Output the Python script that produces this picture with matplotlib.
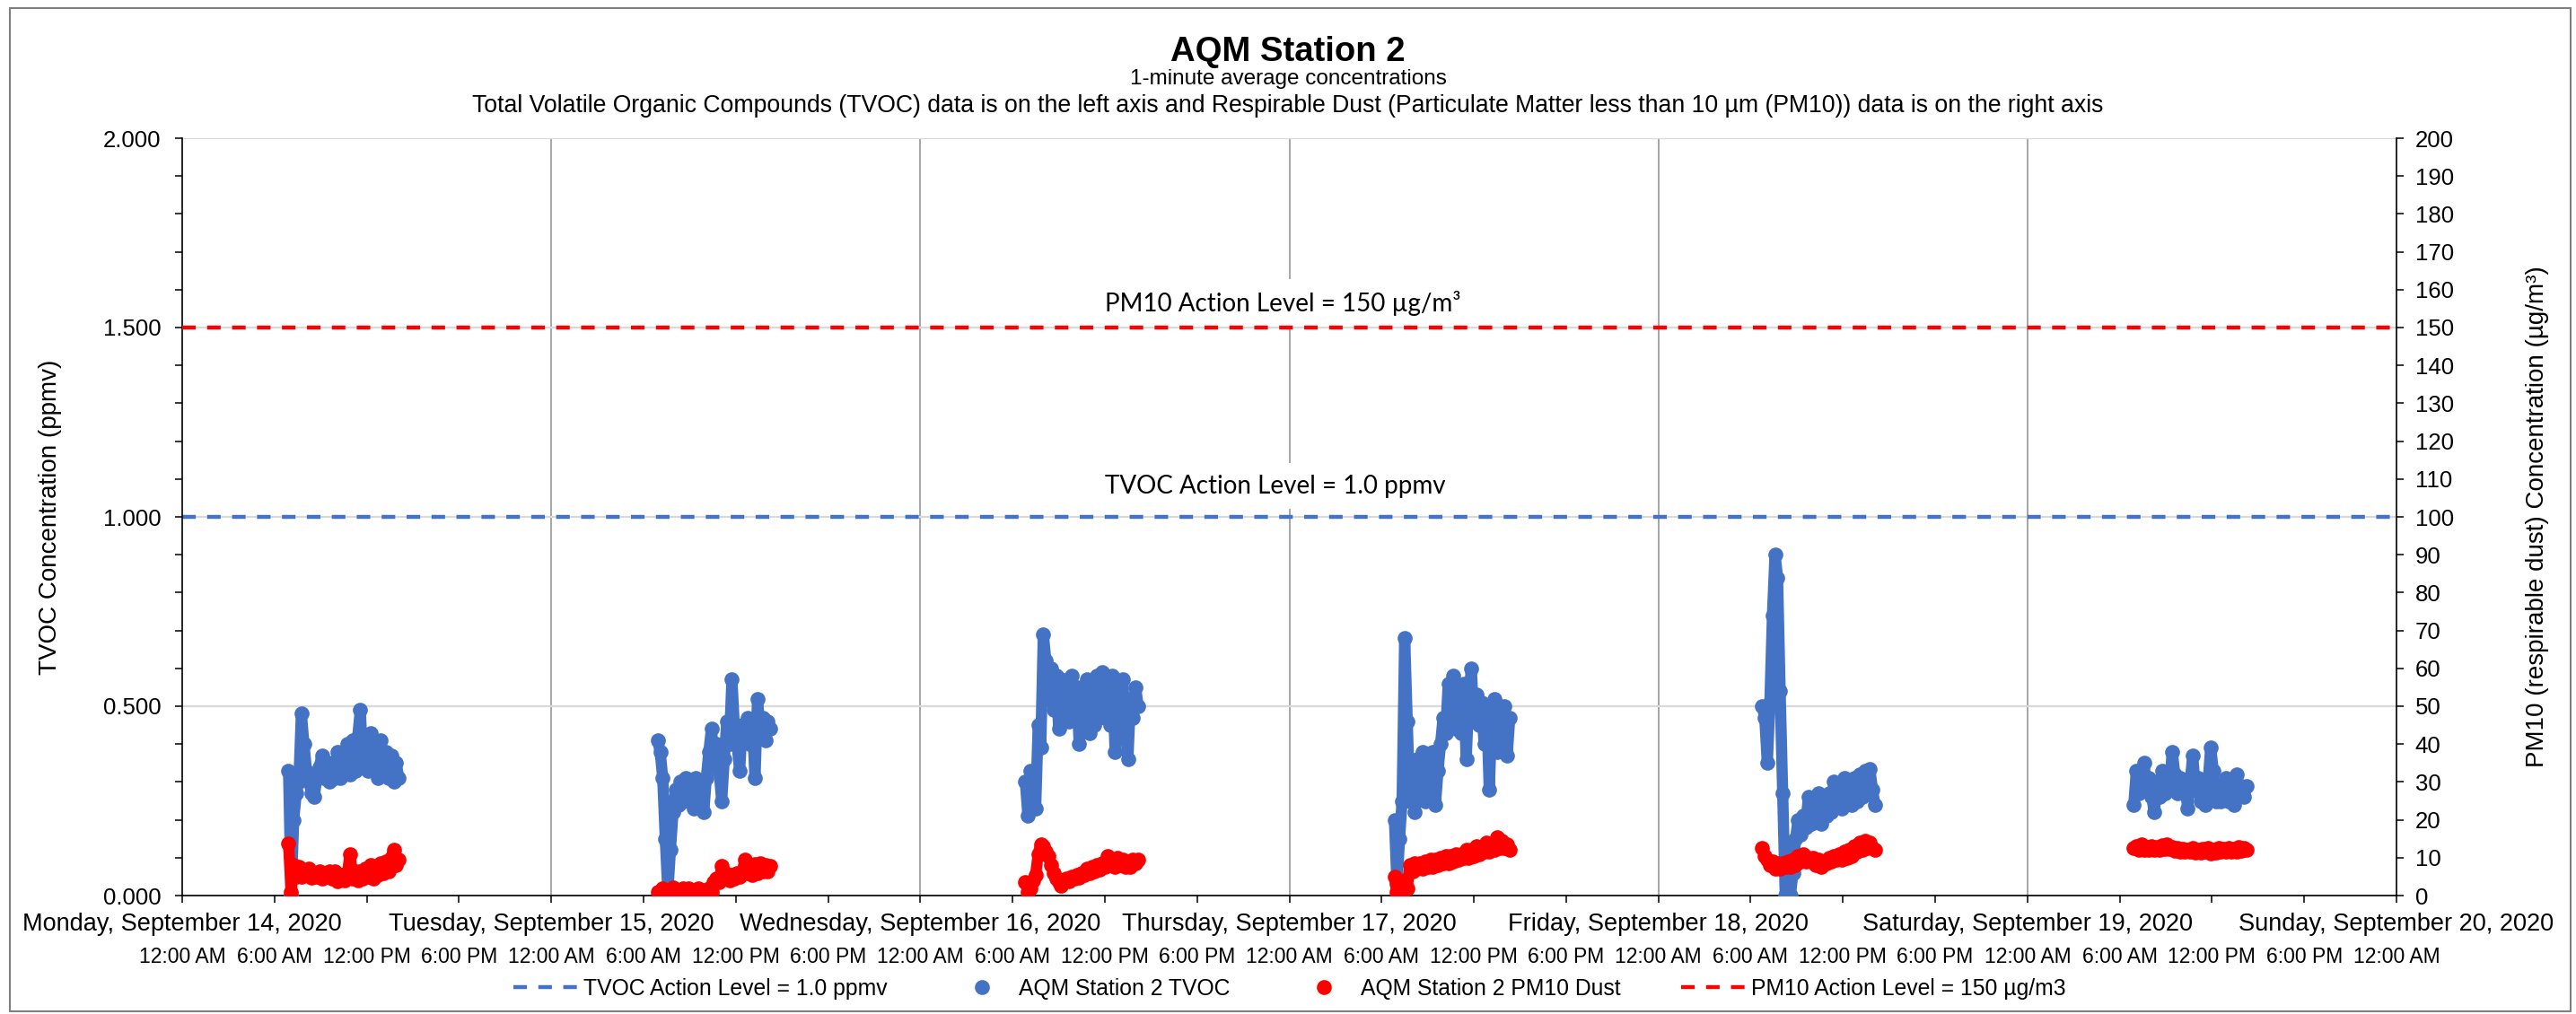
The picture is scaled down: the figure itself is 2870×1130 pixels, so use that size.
import pandas as pd
import numpy as np
import matplotlib
matplotlib.use('Agg')
import matplotlib.pyplot as plt
import matplotlib.dates as mdates
import matplotlib.transforms as mtransforms
from matplotlib.lines import Line2D
from matplotlib.patches import Rectangle
from matplotlib.ticker import MultipleLocator, FormatStrFormatter, FuncFormatter

plt.rcParams['font.family'] = ['Liberation Sans', 'DejaVu Sans']

# 10-minute samples, one list per day of monitoring
day_start = ['2020-09-14 06:55', '2020-09-15 06:55', '2020-09-16 06:50',
             '2020-09-17 06:50', '2020-09-18 06:45', '2020-09-19 06:55']

# TVOC, ppmv (left axis)
tvoc_mon = [0.33, 0.00, 0.20, 0.27, 0.30, 0.48, 0.40, 0.33, 0.30, 0.27, 0.26, 0.31, 0.34, 0.37, 0.31,
            0.33, 0.30, 0.35, 0.31, 0.38, 0.31, 0.36, 0.32, 0.40, 0.32, 0.41, 0.33, 0.42, 0.49, 0.34,
            0.42, 0.33, 0.43, 0.34, 0.38, 0.31, 0.41, 0.33, 0.38, 0.31, 0.37, 0.30, 0.35, 0.31]
tvoc_tue = [0.41, 0.38, 0.31, 0.15, 0.01, 0.12, 0.22, 0.28, 0.24, 0.30, 0.25, 0.31, 0.26, 0.30, 0.23,
            0.31, 0.25, 0.30, 0.22, 0.31, 0.38, 0.44, 0.36, 0.40, 0.33, 0.25, 0.36, 0.46, 0.40, 0.57,
            0.44, 0.40, 0.33, 0.45, 0.41, 0.47, 0.40, 0.46, 0.31, 0.52, 0.42, 0.47, 0.41, 0.46, 0.44]
tvoc_wed = [0.30, 0.21, 0.33, 0.28, 0.23, 0.45, 0.39, 0.69, 0.62, 0.52, 0.60, 0.49, 0.58, 0.44, 0.57,
            0.48, 0.56, 0.46, 0.58, 0.47, 0.55, 0.40, 0.55, 0.44, 0.57, 0.43, 0.54, 0.45, 0.58, 0.47,
            0.59, 0.48, 0.57, 0.45, 0.58, 0.38, 0.56, 0.46, 0.57, 0.44, 0.36, 0.52, 0.47, 0.55, 0.50]
tvoc_thu = [0.20, 0.03, 0.15, 0.25, 0.68, 0.46, 0.25, 0.33, 0.22, 0.36, 0.26, 0.38, 0.25, 0.35, 0.27,
            0.38, 0.24, 0.33, 0.40, 0.47, 0.43, 0.56, 0.45, 0.58, 0.44, 0.53, 0.43, 0.56, 0.36, 0.52,
            0.60, 0.46, 0.53, 0.45, 0.51, 0.40, 0.50, 0.28, 0.47, 0.52, 0.38, 0.50, 0.45, 0.50, 0.37, 0.47]
tvoc_fri = [0.50, 0.47, 0.35, 0.51, 0.74, 0.90, 0.84, 0.54, 0.27, 0.00, 0.10, 0.00, 0.06, 0.15, 0.20,
            0.16, 0.21, 0.18, 0.26, 0.19, 0.24, 0.20, 0.27, 0.19, 0.25, 0.21, 0.27, 0.22, 0.30, 0.24,
            0.29, 0.23, 0.31, 0.25, 0.28, 0.24, 0.31, 0.25, 0.32, 0.26, 0.33, 0.27, 0.335, 0.28, 0.24]
tvoc_sat = [0.24, 0.33, 0.27, 0.32, 0.35, 0.28, 0.31, 0.26, 0.22, 0.30, 0.26, 0.33, 0.27, 0.32, 0.29,
            0.38, 0.32, 0.27, 0.31, 0.27, 0.30, 0.23, 0.30, 0.37, 0.28, 0.31, 0.25, 0.29, 0.24, 0.30,
            0.39, 0.33, 0.25, 0.29, 0.25, 0.28, 0.31, 0.25, 0.29, 0.24, 0.32, 0.27, 0.29, 0.26, 0.29]

# PM10 dust, ug/m3 (right axis)
pm10_mon = [13.7, 1.0, 8.0, 5.0, 7.5, 5.0, 6.5, 5.5, 7.0, 4.8, 6.0, 5.0, 6.5, 4.5, 6.0,
            5.0, 6.5, 4.5, 6.5, 3.8, 5.5, 5.5, 4.0, 6.0, 11.0, 4.5, 6.5, 4.0, 6.5, 4.5,
            7.0, 5.0, 8.0, 4.5, 6.0, 5.5, 8.5, 6.0, 9.0, 6.5, 10.0, 12.0, 8.0, 9.5]
pm10_tue = [1.0, 0.0, 2.0, 0.5, 1.5, 0.0, 2.2, 0.5, 1.5, 0.0, 2.0, 0.5, 1.8, 0.0, 1.5,
            0.3, 2.0, 0.0, 1.5, 0.5, 2.0, 1.0, 3.5, 4.5, 3.5, 7.8, 4.5, 5.8, 4.0, 5.5,
            4.5, 6.0, 5.0, 6.0, 9.4, 6.0, 8.0, 5.5, 8.2, 6.0, 8.5, 6.5, 8.0, 6.5, 7.8]
pm10_wed = [3.5, 1.0, 2.0, 4.0, 5.5, 11.0, 13.5, 13.0, 11.5, 10.5, 8.0, 6.0, 4.5, 3.5, 2.7,
            3.5, 4.5, 3.8, 5.0, 4.5, 5.5, 4.8, 6.0, 5.5, 7.0, 6.0, 7.5, 6.5, 8.0, 6.8,
            8.5, 7.5, 10.5, 8.0, 9.0, 7.5, 10.0, 8.0, 9.5, 7.5, 9.0, 7.5, 9.5, 8.5, 9.5]
pm10_thu = [5.0, 1.0, 3.0, 0.8, 4.0, 2.0, 8.0, 6.5, 8.5, 7.0, 8.5, 7.0, 9.0, 7.5, 9.5,
            7.5, 9.5, 8.0, 10.0, 8.5, 10.5, 8.5, 10.5, 9.0, 11.0, 9.5, 11.0, 10.0, 12.0, 10.0,
            12.0, 10.5, 13.0, 11.0, 12.5, 11.5, 14.0, 11.5, 13.0, 12.0, 15.3, 12.5, 14.5, 12.5, 13.5, 12.0]
pm10_fri = [12.5, 10.5, 9.5, 8.0, 9.0, 7.0, 8.5, 7.0, 8.5, 7.5, 9.0, 7.5, 9.5, 8.0, 10.5,
            9.0, 11.0, 9.0, 10.0, 9.0, 10.0, 8.0, 9.5, 7.5, 9.0, 8.5, 10.0, 9.0, 10.5, 9.5,
            11.0, 9.5, 11.5, 10.0, 12.0, 10.5, 13.0, 11.5, 14.0, 12.0, 14.5, 12.5, 14.0, 12.5, 12.0]
pm10_sat = [12.5, 13.0, 12.0, 13.5, 12.2, 12.8, 12.0, 13.0, 12.2, 12.8, 12.0, 13.2, 12.3, 13.5, 12.4,
            12.8, 11.8, 12.5, 11.6, 12.3, 11.5, 12.2, 11.6, 12.5, 11.4, 12.0, 11.3, 12.4, 11.6, 12.6,
            11.2, 12.0, 11.3, 12.5, 11.6, 12.3, 11.5, 12.6, 11.7, 12.4, 11.6, 12.8, 11.8, 12.5, 12.0]

tvoc = [tvoc_mon, tvoc_tue, tvoc_wed, tvoc_thu, tvoc_fri, tvoc_sat]
pm10 = [pm10_mon, pm10_tue, pm10_wed, pm10_thu, pm10_fri, pm10_sat]

tvoc_action = 1.0
pm10_action = 150
x_start, x_end = '2020-09-14', '2020-09-20'

blue = '#4472C4'
red = '#FF0000'

W, H = 2870, 1130
fig = plt.figure(figsize=(W / 100, H / 100), dpi=100)
ax = fig.add_axes([203 / W, 1 - 998 / H, (2670 - 203) / W, (998 - 154) / H])
ax2 = ax.twinx()

# data
for start, tv, pm in zip(day_start, tvoc, pm10):
    t = pd.date_range(start, periods=len(tv), freq='10min')
    ax.plot(t, tv, color=blue, lw=9, marker='o', ms=12, mew=0,
            solid_joinstyle='round', solid_capstyle='round', zorder=3)
    ax2.plot(t, pm, color=red, lw=9, marker='o', ms=12, mew=0,
             solid_joinstyle='round', solid_capstyle='round', zorder=3)

dash = (0, (3.4, 2.85))
ax.axhline(tvoc_action, color=blue, lw=3.2, ls=dash, dash_capstyle='butt', zorder=2.5)
ax2.axhline(pm10_action, color=red, lw=3.2, ls=dash, dash_capstyle='butt', zorder=2.5)

ax.text(pd.Timestamp('2020-09-16 12:00'), 1.564, 'PM10 Action Level = 150 µg/m³',
        family='Lato', fontsize=20, ha='left', va='center', zorder=2,
        bbox=dict(facecolor='white', edgecolor='none', pad=9))
ax.text(pd.Timestamp('2020-09-16 12:00'), 1.081, 'TVOC Action Level = 1.0 ppmv',
        family='Lato', fontsize=20, ha='left', va='center', zorder=2,
        bbox=dict(facecolor='white', edgecolor='none', pad=9))

# axes limits / ticks
days = pd.date_range(x_start, x_end, freq='D')
ax.set_xlim(days[0], days[-1])
ax.set_ylim(0, 2)
ax2.set_ylim(0, 200)

ax.yaxis.set_major_locator(MultipleLocator(0.5))
ax.yaxis.set_minor_locator(MultipleLocator(0.1))
ax.yaxis.set_major_formatter(FormatStrFormatter('%.3f'))
ax2.yaxis.set_major_locator(MultipleLocator(10))

ax.xaxis.set_major_locator(mdates.HourLocator(byhour=[0, 6, 12, 18]))
ax.xaxis.set_major_formatter(FuncFormatter(lambda x, p: mdates.num2date(x).strftime('%-I:%M %p')))

ax.tick_params(axis='y', which='both', direction='out', length=6, width=1.1,
               labelsize=18.5, pad=11)
ax.tick_params(axis='x', direction='out', length=6, width=1.1, labelsize=16.5, pad=35)
ax2.tick_params(axis='y', direction='out', length=6, width=1.1, labelsize=18.5, pad=9)

# grid
ax.set_axisbelow(True)
ax.yaxis.grid(True, which='major', color='#d9d9d9', lw=1.6)
for d in days[1:-1]:
    ax.axvline(d, color='#a6a6a6', lw=1.4, zorder=0.5)

for s in ['top', 'right']:
    ax.spines[s].set_visible(False)
for s in ['top', 'left', 'bottom']:
    ax2.spines[s].set_visible(False)
for sp in [ax.spines['left'], ax.spines['bottom'], ax2.spines['right']]:
    sp.set_color('black')
    sp.set_linewidth(1.2)

# day labels above the hour labels
trans = mtransforms.blended_transform_factory(ax.transData, ax.transAxes)
for d in days:
    ax.text(d, -0.038, d.strftime('%A, %B %-d, %Y'), transform=trans,
            ha='center', va='center', fontsize=19.5)

# titles and axis labels
fig.text(1435 / W, 1 - 58 / H, 'AQM Station 2', fontsize=27.5, weight='bold', ha='center', va='center')
fig.text(1435 / W, 1 - 88 / H, '1-minute average concentrations', fontsize=17.5, ha='center', va='center')
fig.text(1435 / W, 1 - 118 / H,
         'Total Volatile Organic Compounds (TVOC) data is on the left axis and Respirable Dust '
         '(Particulate Matter less than 10 µm (PM10)) data is on the right axis',
         fontsize=19.2, ha='center', va='center')
fig.text(56 / W, 1 - 576 / H, 'TVOC Concentration (ppmv)', fontsize=20, rotation=90,
         ha='center', va='center')
fig.text(2827 / W, 1 - 576 / H, 'PM10 (respirable dust) Concentration (µg/m³)', fontsize=20,
         rotation=90, ha='center', va='center')

# legend
handles = [Line2D([0], [0], color=blue, lw=3.2, ls=dash, dash_capstyle='butt'),
           Line2D([0], [0], color=blue, ls='none', marker='o', ms=12, mew=0),
           Line2D([0], [0], color=red, ls='none', marker='o', ms=12, mew=0),
           Line2D([0], [0], color=red, lw=3.2, ls=dash, dash_capstyle='butt')]
labels = ['TVOC Action Level = 1.0 ppmv', 'AQM Station 2 TVOC',
          'AQM Station 2 PM10 Dust', 'PM10 Action Level = 150 µg/m3']
fig.legend(handles, labels, loc='center', bbox_to_anchor=(1437 / W, 1 - 1102 / H), ncol=4,
           frameon=False, fontsize=17.8, handlelength=3.0, handletextpad=0.15,
           columnspacing=2.75, numpoints=1)

# chart area border
fig.add_artist(Rectangle((11 / W, 1 - 1127 / H), (2864 - 11) / W, (1127 - 9) / H,
                         transform=fig.transFigure, fill=False, edgecolor='#7f7f7f', lw=1.5))

fig.savefig('out.png', dpi=100)
